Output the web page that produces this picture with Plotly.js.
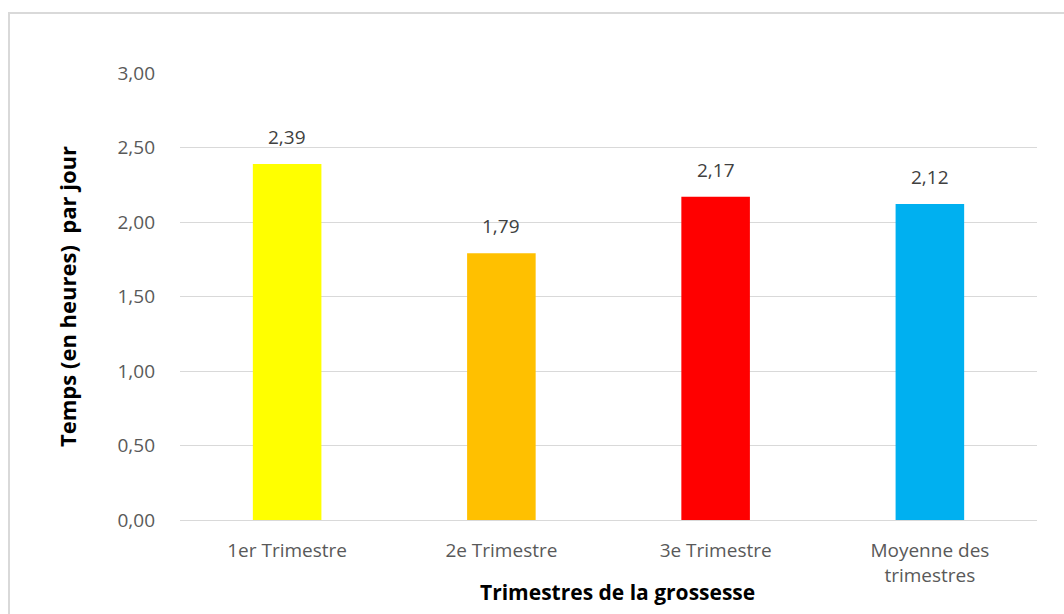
<!DOCTYPE html>
<html>
<head>
<meta charset="utf-8">
<script src="https://cdn.plot.ly/plotly-3.0.1.min.js"></script>
<style>
html,body{margin:0;padding:0;background:#fff;}
#chart{width:1064px;height:614px;position:absolute;left:0;top:0;}
#frame{position:absolute;left:8px;top:12px;width:1070px;height:620px;border:2px solid #d9d9d9;box-sizing:border-box;pointer-events:none;}
</style>
</head>
<body>
<div id="chart"></div>
<div id="frame"></div>
<script>
const categories = ["1er Trimestre", "2e Trimestre", "3e Trimestre", "Moyenne des<br>trimestres"];
const values = [2.39, 1.79, 2.17, 2.12];
const labels = ["2,39", "1,79", "2,17", "2,12"];
const colors = ["#FFFF00", "#FFC000", "#FF0000", "#00B0F0"];
const yTicks = [0, 0.5, 1, 1.5, 2, 2.5, 3];
const xTitle = "Trimestres de la grossesse";
const yTitle = "Temps (en heures)  par jour";

const font = "'Open Sans', Lato, 'Liberation Sans', sans-serif";

const annotations = categories.map((c, i) => ({
  x: c, y: values[i], xref: "x", yref: "y",
  text: labels[i], showarrow: false,
  yanchor: "bottom", yshift: 12,
  font: {family: font, size: 19, color: "#404040"}
}));
annotations.push({
  xref: "paper", yref: "paper", x: 0.51, y: -0.161,
  xanchor: "center", yanchor: "middle", showarrow: false,
  text: "<b>" + xTitle + "</b>",
  font: {family: font, size: 21, color: "#000"}
});

Plotly.newPlot("chart", [{
  type: "bar",
  x: categories,
  y: values,
  marker: {color: colors},
  hoverinfo: "none"
}], {
  width: 1064, height: 614,
  margin: {l: 180, r: 27, t: 73, b: 94},
  separators: ", ",
  bargap: 0.68,
  paper_bgcolor: "#fff",
  plot_bgcolor: "#fff",
  showlegend: false,
  annotations: annotations,
  xaxis: {
    showgrid: false,
    showline: true,
    linecolor: "#d9d9d9",
    linewidth: 1,
    ticks: "",
    ticklabelstandoff: 13,
    tickfont: {family: font, size: 19, color: "#595959"}
  },
  yaxis: {
    range: [0, 3],
    tickvals: yTicks,
    tickformat: ".2f",
    showgrid: true,
    gridcolor: "#d9d9d9",
    gridwidth: 1,
    zeroline: false,
    showline: false,
    ticks: "",
    ticklabelstandoff: 24,
    tickfont: {family: font, size: 19, color: "#595959"},
    title: {text: "<b>" + yTitle + "</b>", font: {family: font, size: 22, color: "#000"}, standoff: 34}
  }
}, {staticPlot: true});
</script>
</body>
</html>
